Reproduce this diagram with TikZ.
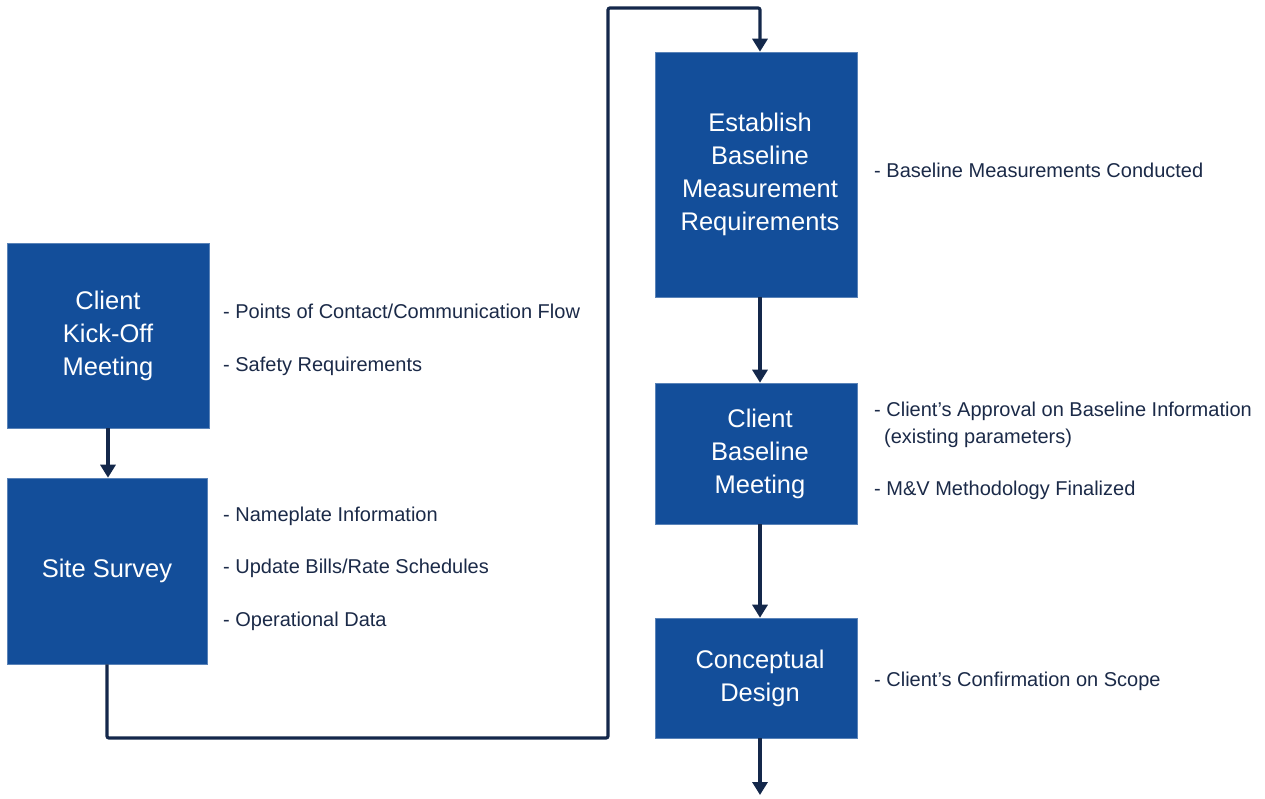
\documentclass[tikz,border=0pt]{standalone}
\usepackage{fontspec}
\setmainfont{Liberation Sans}
\usetikzlibrary{arrows.meta}
\definecolor{boxblue}{HTML}{134E9A}
\definecolor{linenavy}{HTML}{14284B}
\definecolor{textnavy}{HTML}{1B2A48}
\tikzset{
  stepbox/.style={fill=boxblue, draw=boxblue!70!white, line width=0.6, inner sep=0pt, text=white, align=center,
    font=\fontsize{25.5}{33}\selectfont, minimum width=202},
  note/.style={anchor=base west, inner sep=0pt, text=textnavy, font=\fontsize{20}{23}\selectfont},
  conn/.style={draw=linenavy, line width=3.2, rounded corners=2,
    -{Triangle[width=15,length=13]}},
}
\begin{document}
\begin{tikzpicture}[x=1pt,y=-1pt]
\useasboundingbox[fill=white] (0,0) rectangle (1265,798);
% boxes
\node[stepbox, minimum height=185] (kick) at (108,335.5) {Client\\Kick-Off\\Meeting};
\node[stepbox, minimum width=200, minimum height=186] (site) at (107,571) {Site Survey};
\node[stepbox, minimum height=245] (est) at (756,174.5) {\hspace*{8pt}Establish\\\hspace*{8pt}Baseline\\\hspace*{8pt}Measurement\\\hspace*{8pt}Requirements};
\node[stepbox, minimum height=141] (cbm) at (756,453.5) {\hspace*{8pt}Client\\\hspace*{8pt}Baseline\\\hspace*{8pt}Meeting};
\node[stepbox, minimum height=120] (cd) at (756,678) {\hspace*{8pt}Conceptual\\\hspace*{8pt}Design};
% notes
\node[note] (n1) at (223,318) {- Points of Contact/Communication Flow};
\node[note] (n2) at (223,371) {- Safety Requirements};
\node[note] (n3) at (223,521) {- Nameplate Information};
\node[note] (n4) at (223,573) {- Update Bills/Rate Schedules};
\node[note] (n5) at (223,626) {- Operational Data};
\node[note] (n6) at (874,177) {- Baseline Measurements Conducted};
\node[note] (n7) at (874,416) {- Client’s Approval on Baseline Information};
\node[note] (n8) at (884,443) {(existing parameters)};
\node[note] (n9) at (874,495) {- M\&V Methodology Finalized};
\node[note] (n10) at (874,686) {- Client’s Confirmation on Scope};
% connectors
\coordinate (c1) at (608,738);
\coordinate (c2) at (608,8);
\coordinate (fin) at (760,795);
\draw[conn] (kick.south) -- (kick.south |- site.north);
\draw[conn] (site.south) |- (c1) -- (c2) -| ([xshift=4]est.north);
\draw[conn] ([xshift=4]est.south) -- ([xshift=4]cbm.north);
\draw[conn] ([xshift=4]cbm.south) -- ([xshift=4]cd.north);
\draw[conn] ([xshift=4]cd.south) -- (fin);
\end{tikzpicture}
\end{document}
